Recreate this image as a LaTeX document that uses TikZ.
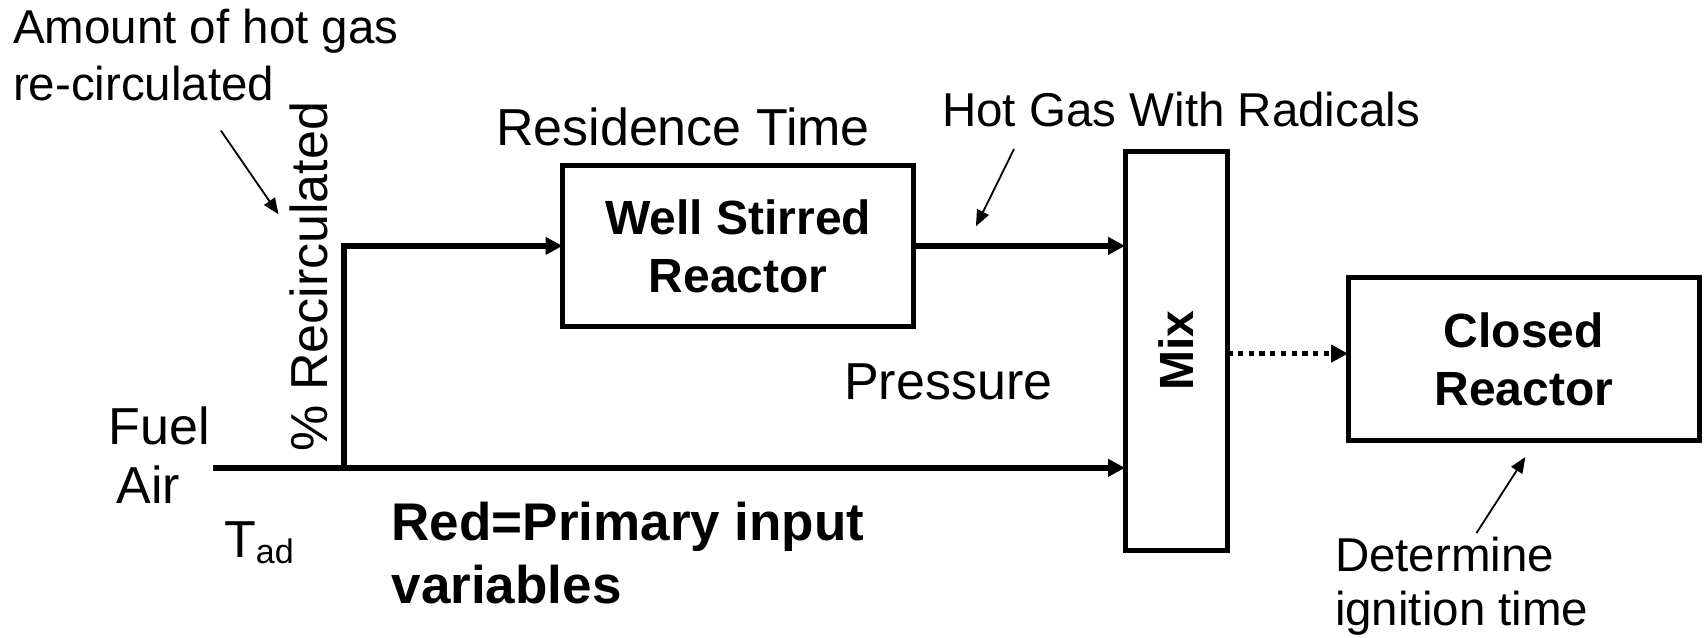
\documentclass[tikz,border=0pt]{standalone}
\usepackage{fontspec}
\setmainfont{Liberation Sans}
\usetikzlibrary{arrows.meta}
\begin{document}
\begin{tikzpicture}[x=1.088pt,y=-1.088pt,
  lbl/.style={font=\fontsize{47.5}{54}\selectfont, inner sep=0pt, outer sep=0pt, anchor=base west},
  big/.style={font=\fontsize{52}{58}\selectfont, inner sep=0pt, outer sep=0pt, anchor=base west},
  bigbold/.style={font=\fontsize{53}{58}\selectfont\bfseries, inner sep=0pt, outer sep=0pt, anchor=base west},
  box/.style={draw, line width=5pt, inner sep=0pt, outer sep=0pt, align=center,
    font=\fontsize{48}{58}\selectfont\bfseries},
  flow/.style={line width=5.5pt, -{Triangle[length=17pt,width=17pt]}},
  dotflow/.style={line width=5pt, dash pattern=on 5.3pt off 5.4pt, -{Triangle[length=17pt,width=17pt]}},
  note/.style={line width=1.8pt, -{Triangle[length=16pt,width=13pt]}},
]
\useasboundingbox (0,0) rectangle (1568,586);

% boxes
\node[box, minimum width=351.4pt, minimum height=161pt] (wsr) at (678.5,226) {Well Stirred\\Reactor};
\node[box, minimum width=102.3pt, minimum height=399.3pt] (mix) at (1081,322.5) {};
\node[font=\fontsize{48}{58}\selectfont\bfseries, rotate=90, inner sep=0pt] (mixtxt) at (mix.center) {Mix};
\node[box, minimum width=351.4pt, minimum height=163.2pt] (closed) at (1400.5,330) {Closed\\Reactor};

% labels
\node[lbl] (amount) at (12,40) {Amount of hot gas};
\node[lbl] (recirc) at (12,92) {re-circulated};
\node[big, rotate=90] (pct) at (301,415) {\% Recirculated};
\node[big] (restime) at (456,134) {Residence Time};
\node[lbl] (hotgas) at (866,116) {Hot Gas With Radicals};
\node[big] (press) at (776,367) {Pressure};
\node[big] (fuel) at (100,409) {Fuel};
\node[big] (air) at (107,463) {Air};
\node[big] (tad) at (206,512) {T\raisebox{-6pt}{\fontsize{34}{34}\selectfont ad}};
\node[bigbold] (red) at (360,497) {Red=Primary input};
\node[bigbold] (vars) at (360,555) {variables};
\node[lbl] (determ) at (1227,525) {Determine};
\node[lbl] (ignit) at (1227,575) {ignition time};

% flow lines
\coordinate (start) at (196,430);
\coordinate (branch) at (316,430);
\draw[flow] (start) -- (start -| mix.west);
\draw[flow] (branch) |- (wsr.west);
\draw[flow] (wsr.east) -- (wsr.east -| mix.west);
\draw[dotflow] (mix.east |- 0,325) -- (closed.west |- 0,325);

% annotation arrows
\coordinate (a1s) at (203,120);
\coordinate (a1e) at (256,197);
\draw[note] (a1s) -- (a1e);
\coordinate (a2s) at (932,137);
\coordinate (a2e) at (897,208);
\draw[note] (a2s) -- (a2e);
\coordinate (a3s) at (1357,490);
\coordinate (a3e) at (1402,420);
\draw[note] (a3s) -- (a3e);
\end{tikzpicture}
\end{document}
